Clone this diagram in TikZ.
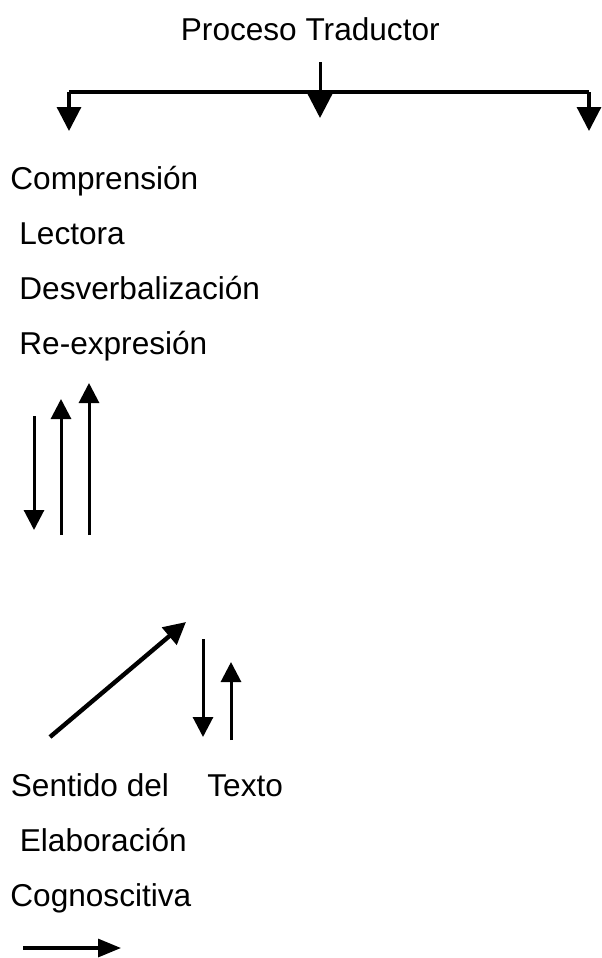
\documentclass[tikz,border=0pt]{standalone}
\usepackage{fontspec}
\setmainfont{Liberation Sans}
\usetikzlibrary{arrows.meta}
\begin{document}
\begin{tikzpicture}[x=0.5pt,y=-0.5pt,
  lbl/.style={anchor=base west,inner sep=0pt,font=\fontsize{15.8pt}{18pt}\selectfont},
  bigarrow/.style={line width=1.6pt,-{Triangle[width=12pt,length=12pt]}},
  thinarrow/.style={line width=1.5pt,-{Triangle[width=10pt,length=10pt]}},
  diagarrow/.style={line width=2.2pt,-{Triangle[width=11pt,length=11pt]}},
  bar/.style={line width=2.2pt}]
\useasboundingbox (0,0) rectangle (601,958);
% title
\node[lbl] (title) at (180.5,40) {Proceso Traductor};
% tree connectors
\coordinate (top) at (320,62);
\coordinate (barL) at (69,92);
\coordinate (barM) at (320,92);
\coordinate (barR) at (589,92);
\coordinate (tipL) at (69,131);
\coordinate (tipM) at (320,118);
\coordinate (tipR) at (589,131);
\draw[line width=1.5pt] (top) -- (barM);
\draw[bar] (barL) -- (barR);
\draw[bigarrow] (barL) -- (tipL);
\draw[bigarrow] (barM) -- (tipM);
\draw[bigarrow] (barR) -- (tipR);
% left texts
\node[lbl] (comp) at (10,189) {Comprensión};
\node[lbl] (lect) at (19,244) {Lectora};
\node[lbl] (desv) at (19,299) {Desverbalización};
\node[lbl] (reex) at (19,354) {Re-expresión};
% vertical arrows
\coordinate (a1s) at (34,416); \coordinate (a1e) at (34,530);
\coordinate (a2s) at (61,535); \coordinate (a2e) at (61,399);
\coordinate (a3s) at (89,535); \coordinate (a3e) at (89,383);
\draw[thinarrow] (a1s) -- (a1e);
\draw[thinarrow] (a2s) -- (a2e);
\draw[thinarrow] (a3s) -- (a3e);
% diagonal arrow
\coordinate (ds) at (50,737); \coordinate (de) at (186,622);
\draw[diagarrow] (ds) -- (de);
\coordinate (b1s) at (203,639); \coordinate (b1e) at (203,737);
\coordinate (b2s) at (231,740); \coordinate (b2e) at (231,662);
\draw[thinarrow] (b1s) -- (b1e);
\draw[thinarrow] (b2s) -- (b2e);
% lower texts
\node[lbl] (sent) at (10.5,796) {Sentido del};
\node[lbl] (text) at (207,796) {Texto};
\node[lbl] (elab) at (19.5,851) {Elaboración};
\node[lbl] (cogn) at (10,906) {Cognoscitiva};
% bottom arrow
\coordinate (cs) at (23,948); \coordinate (ce) at (121,948);
\draw[line width=1.6pt,-{Triangle[width=9pt,length=11.5pt]}] (cs) -- (ce);
\end{tikzpicture}
\end{document}
